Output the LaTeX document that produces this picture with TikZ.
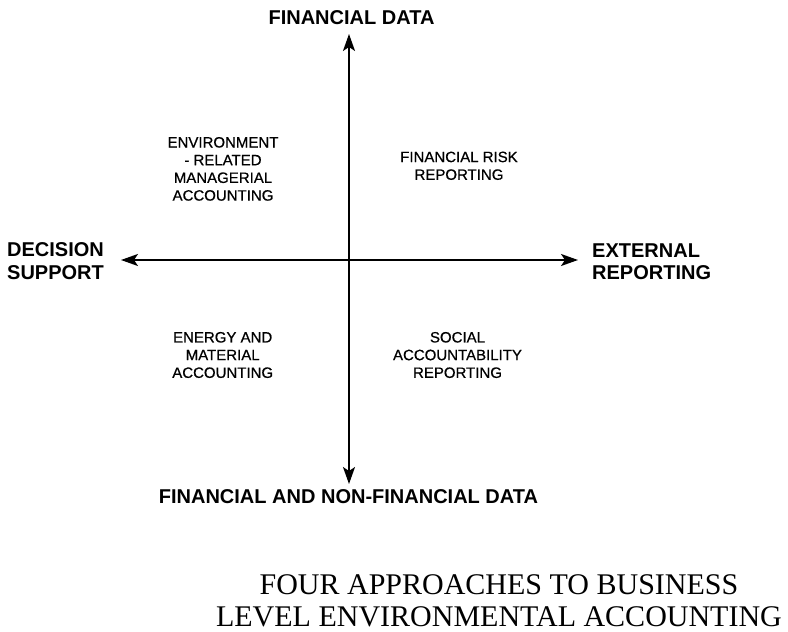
\documentclass[tikz,border=0pt]{standalone}
\usepackage{fontspec}
\setmainfont{Liberation Serif}
\newfontfamily\axisfont{Liberation Sans}
\newfontfamily\quadfont[FakeBold=0.6]{Liberation Sans}
\usetikzlibrary{arrows.meta}

\begin{document}
\begin{tikzpicture}[x=1pt,y=-1pt,
    axis/.style={line width=1.8pt,
      {Stealth[length=17pt,width=12pt,inset=4pt]}-{Stealth[length=17pt,width=12pt,inset=4pt]}},
    polelabel/.style={inner sep=0pt,font=\axisfont\bfseries\fontsize{20}{22.3}\selectfont},
    quadlabel/.style={inner sep=0pt,align=center,font=\quadfont\fontsize{15}{17.7}\selectfont},
    caption/.style={inner sep=0pt,align=center,font=\fontsize{30}{31.7}\selectfont}]
  % canvas
  \useasboundingbox (0,0) rectangle (788,632);
  \fill[white] (0,0) rectangle (788,632);

  % axis end points
  \coordinate (ytop) at (349,34);
  \coordinate (ybot) at (349,484);
  \coordinate (xleft) at (121,260);
  \coordinate (xright) at (578,260);

  % the two axes
  \draw[axis] (ybot) -- (ytop);
  \draw[axis] (xleft) -- (xright);

  % pole labels
  \node[polelabel,anchor=base] (fin) at (351.5,24.3) {FINANCIAL DATA};
  \node[polelabel,anchor=base] (nonfin) at (348.5,503.3) {FINANCIAL AND NON-FINANCIAL DATA};
  \node[polelabel,align=left,anchor=west] (decision) at (7,261.2) {DECISION\\SUPPORT};
  \node[polelabel,align=left,anchor=west] (external) at (592,262) {EXTERNAL\\REPORTING};

  % quadrant labels
  \node[quadlabel] (emac) at (223,168.9) {ENVIRONMENT\\- RELATED\\MANAGERIAL\\ACCOUNTING};
  \node[quadlabel] (risk) at (459,165.8) {FINANCIAL RISK\\REPORTING};
  \node[quadlabel] (energy) at (222.7,355) {ENERGY AND\\MATERIAL\\ACCOUNTING};
  \node[quadlabel] (social) at (457.5,355) {SOCIAL\\ACCOUNTABILITY\\REPORTING};

  % caption
  \node[caption] (title) at (499,600.5) {FOUR APPROACHES TO BUSINESS\\LEVEL ENVIRONMENTAL ACCOUNTING};
\end{tikzpicture}
\end{document}
